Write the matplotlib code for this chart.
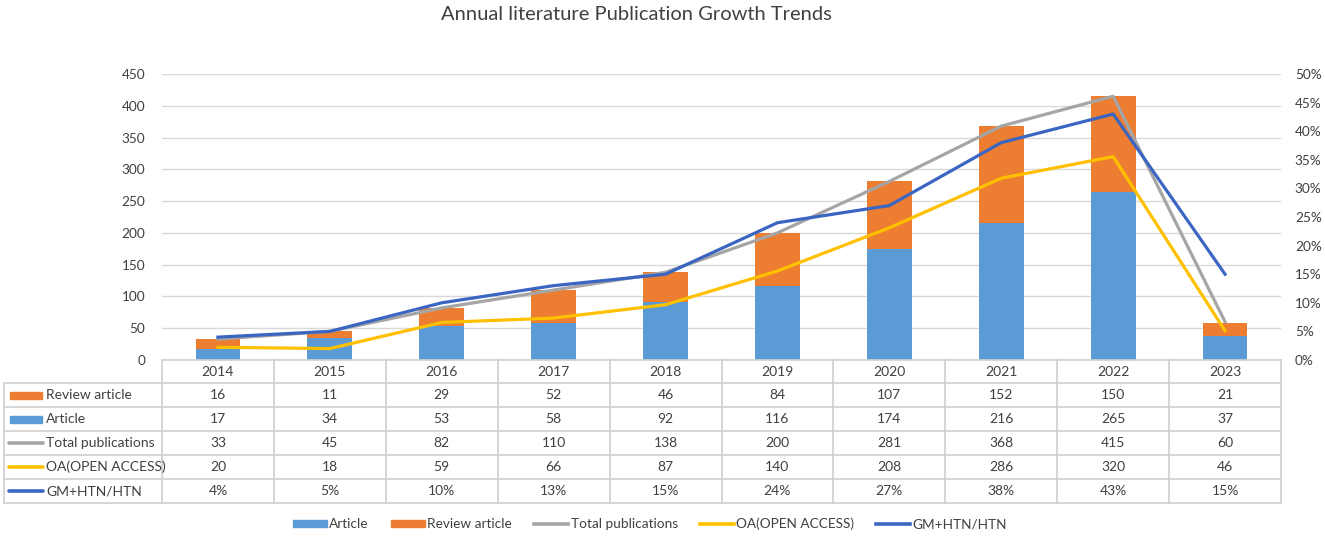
import matplotlib.pyplot as plt
from matplotlib.patches import Rectangle
from matplotlib.lines import Line2D
import numpy as np

plt.rcParams['font.family'] = ['Lato', 'DejaVu Sans']

# data
years = ['2014', '2015', '2016', '2017', '2018', '2019', '2020', '2021', '2022', '2023']
review = [16, 11, 29, 52, 46, 84, 107, 152, 150, 21]
article = [17, 34, 53, 58, 92, 116, 174, 216, 265, 37]
total = [33, 45, 82, 110, 138, 200, 281, 368, 415, 60]
oa = [20, 18, 59, 66, 87, 140, 208, 286, 320, 46]
gm_pct = [4, 5, 10, 13, 15, 24, 27, 38, 43, 15]

C_ART = '#5B9BD5'
C_REV = '#ED7D31'
C_TOT = '#A5A5A5'
C_OA = '#FFC000'
C_GM = '#3A66C2'
TXT = '#404040'
GRID = '#D9D9D9'

W, H = 1325, 536
fig = plt.figure(figsize=(W / 100, H / 100), dpi=100)

# plot area in pixels
x0, x1, ytop, ybot = 162, 1281, 74, 360
ax = fig.add_axes([x0 / W, 1 - ybot / H, (x1 - x0) / W, (ybot - ytop) / H])
x = np.arange(len(years))
ax.bar(x, article, width=0.4, color=C_ART, zorder=2)
ax.bar(x, review, width=0.4, bottom=article, color=C_REV, zorder=2)
ax.plot(x, total, color=C_TOT, lw=2.3, zorder=3)
ax.plot(x, oa, color=C_OA, lw=2.3, zorder=3)
ax.set_xlim(-0.5, len(years) - 0.5)
ax.set_ylim(0, 450)
ax.set_yticks(range(0, 451, 50))
ax.grid(axis='y', color=GRID, lw=1, zorder=0)
ax.set_xticks([])
for s in ax.spines.values():
    s.set_visible(False)
ax.tick_params(axis='y', length=0, labelsize=9.8, labelcolor=TXT, pad=12)

ax2 = ax.twinx()
ax2.plot(x, np.array(gm_pct) / 100, color=C_GM, lw=2.3, zorder=4)
ax2.set_ylim(0, 0.5)
ax2.set_yticks(np.arange(0, 0.51, 0.05))
ax2.set_yticklabels([f'{int(round(v * 100))}%' for v in np.arange(0, 0.51, 0.05)])
for s in ax2.spines.values():
    s.set_visible(False)
ax2.tick_params(axis='y', length=0, labelsize=9.8, labelcolor=TXT, pad=10)

# data table drawn in pixel coordinates
tb = fig.add_axes([0, 0, 1, 1], facecolor='none')
tb.set_xlim(0, W)
tb.set_ylim(H, 0)
tb.axis('off')
rows_y = [360, 383, 407, 431, 455, 479, 503]
col_w = (x1 - x0) / len(years)
lc = '#D0D0D0'
# horizontal lines
tb.plot([x0, x1], [rows_y[0], rows_y[0]], color=lc, lw=1.2)
for yy in rows_y[1:]:
    tb.plot([4, x1], [yy, yy], color=lc, lw=1.2)
# vertical lines
tb.plot([4, 4], [rows_y[1], rows_y[-1]], color=lc, lw=1.2)
for i in range(len(years) + 1):
    xx = x0 + i * col_w
    tb.plot([xx, xx], [rows_y[0], rows_y[-1]], color=lc, lw=1.2)

for i, yr in enumerate(years):
    tb.text(x0 + (i + 0.5) * col_w, (rows_y[0] + rows_y[1]) / 2, yr,
            ha='center', va='center', fontsize=10, color=TXT)

row_labels = ['Review article', 'Article', 'Total publications', 'OA(OPEN ACCESS)', 'GM+HTN/HTN']
row_vals = [review, article, total, oa, [f'{v}%' for v in gm_pct]]
row_cols = [C_REV, C_ART, C_TOT, C_OA, C_GM]
for r in range(5):
    yc = (rows_y[r + 1] + rows_y[r + 2]) / 2
    if r < 2:
        tb.add_patch(Rectangle((10, yc - 3.5), 32, 7, color=row_cols[r]))
    else:
        tb.plot([9, 43], [yc, yc], color=row_cols[r], lw=2.6, solid_capstyle='round')
    tb.text(46, yc, row_labels[r], ha='left', va='center', fontsize=10, color=TXT)
    for i, v in enumerate(row_vals[r]):
        tb.text(x0 + (i + 0.5) * col_w, yc, str(v), ha='center', va='center',
                fontsize=10, color=TXT)

# title
fig.text(636 / W, 1 - 15 / H, 'Annual literature Publication Growth Trends',
         ha='center', va='center', fontsize=14.5, color=TXT)

# legend
handles = [
    Rectangle((0, 0), 1, 1, color=C_ART),
    Rectangle((0, 0), 1, 1, color=C_REV),
    Line2D([], [], color=C_TOT, lw=2.6),
    Line2D([], [], color=C_OA, lw=2.6),
    Line2D([], [], color=C_GM, lw=2.6),
]
labels = ['Article', 'Review article', 'Total publications', 'OA(OPEN ACCESS)', 'GM+HTN/HTN']
fig.legend(handles, labels, loc='center', bbox_to_anchor=(650 / W, 1 - 524 / H),
           ncol=5, frameon=False, fontsize=9.8, handlelength=2.5, handleheight=0.5,
           handletextpad=0.2, columnspacing=1.6, labelcolor=TXT)

fig.savefig('out.png', dpi=100)
